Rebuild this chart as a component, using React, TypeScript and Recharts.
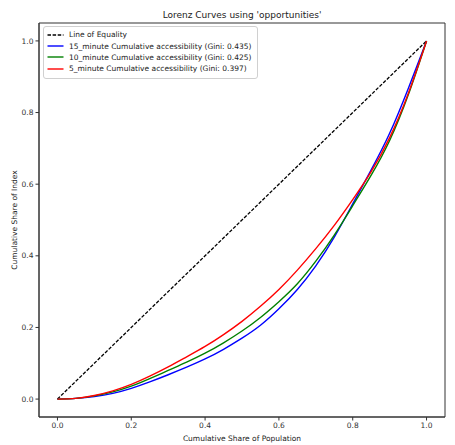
import React from 'react';
import { LineChart, Line, XAxis, YAxis, Label, Legend, ReferenceArea } from 'recharts';

// Share of population (x) at which the curves were read
const populationShare = [0, 0.05, 0.1, 0.15, 0.2, 0.25, 0.3, 0.35, 0.4, 0.45, 0.5, 0.55, 0.6, 0.65, 0.7, 0.75, 0.8, 0.85, 0.9, 0.95, 1.0];
// 15_minute cumulative accessibility (Gini 0.435)
const minute15 = [0, 0.002, 0.007, 0.016, 0.03, 0.048, 0.068, 0.089, 0.112, 0.139, 0.17, 0.206, 0.252, 0.306, 0.372, 0.452, 0.545, 0.64, 0.742, 0.866, 1.0];
// 10_minute cumulative accessibility (Gini 0.425)
const minute10 = [0, 0.002, 0.009, 0.02, 0.036, 0.057, 0.08, 0.103, 0.128, 0.157, 0.19, 0.228, 0.272, 0.322, 0.385, 0.458, 0.54, 0.625, 0.722, 0.848, 1.0];
// 5_minute cumulative accessibility (Gini 0.397)
const minute5 = [0, 0.002, 0.01, 0.023, 0.041, 0.064, 0.09, 0.118, 0.147, 0.18, 0.217, 0.259, 0.306, 0.36, 0.42, 0.485, 0.557, 0.635, 0.73, 0.852, 1.0];
const equalityX = [0, 1];
const equalityY = [0, 1];
const axisTicks = [0, 0.2, 0.4, 0.6, 0.8, 1.0];
const axisDomain = [-0.05, 1.05];

const seriesInfo = [
  { key: 'eq', name: 'Line of Equality', color: '#000000', dash: '3.5 1.6' },
  { key: 's15', name: '15_minute Cumulative accessibility (Gini: 0.435)', color: '#0000ff', dash: undefined },
  { key: 's10', name: '10_minute Cumulative accessibility (Gini: 0.425)', color: '#008000', dash: undefined },
  { key: 's5', name: '5_minute Cumulative accessibility (Gini: 0.397)', color: '#ff0000', dash: undefined },
];

const data = populationShare.map((x, i) => ({ x, s15: minute15[i], s10: minute10[i], s5: minute5[i] }));
const eqData = equalityX.map((x, i) => ({ x, eq: equalityY[i] }));

const FONT = '"DejaVu Sans", sans-serif';
const tickStyle = { fontSize: 7.5, fill: '#333', fontFamily: FONT };
const fmt = (v: number) => v.toFixed(1);

const renderLegend = () => (
  <div
    style={{
      border: '1px solid #d0d0d0',
      borderRadius: 3,
      background: 'rgba(255,255,255,0.8)',
      padding: '2px 6px 3px 3px',
      fontFamily: FONT,
      fontSize: 7.5,
      color: '#222',
      width: 'max-content',
    }}
  >
    {seriesInfo.map((s) => (
      <div key={s.key} style={{ display: 'flex', alignItems: 'center', height: 11.4 }}>
        <svg width={17} height={6} style={{ marginRight: 5 }}>
          <line x1={0.5} y1={3} x2={16.5} y2={3} stroke={s.color} strokeWidth={1.4} strokeDasharray={s.dash} />
        </svg>
        <span>{s.name}</span>
      </div>
    ))}
  </div>
);

export default function App() {
  return (
    <div style={{ position: 'relative', width: 447, height: 437, fontFamily: FONT, overflow: 'hidden' }}>
      <div
        style={{
          position: 'absolute',
          left: 0,
          width: 468,
          top: 1,
          textAlign: 'center',
          fontSize: 9,
          color: '#222',
          lineHeight: '12px',
        }}
      >
        Lorenz Curves using 'opportunities'
      </div>
      <div
        style={{
          position: 'absolute',
          left: 446,
          top: 212,
          transform: 'translate(-50%, -50%) rotate(-90deg)',
          transformOrigin: 'center',
          fontSize: 7.5,
          color: '#555',
          whiteSpace: 'nowrap',
          lineHeight: '9px',
        }}
      >
        Cumulative Share of Index
      </div>
      <LineChart width={447} height={437} margin={{ top: 15, right: 10, left: 0, bottom: 0 }}>
        <XAxis
          dataKey="x"
          type="number"
          domain={axisDomain}
          ticks={axisTicks}
          tickFormatter={fmt}
          allowDataOverflow
          height={28}
          tickSize={3.5}
          tickMargin={2}
          tick={tickStyle}
          stroke="#333"
          axisLine={{ stroke: '#333', strokeWidth: 1 }}
          tickLine={{ stroke: '#333' }}
        >
          <Label value="Cumulative Share of Population" position="insideBottom" offset={4} style={{ fontSize: 7.5, fill: '#222', fontFamily: FONT }} />
        </XAxis>
        <YAxis
          type="number"
          domain={axisDomain}
          ticks={axisTicks}
          tickFormatter={fmt}
          allowDataOverflow
          width={31}
          tickSize={3.5}
          tickMargin={2}
          tick={tickStyle}
          stroke="#333"
          axisLine={{ stroke: '#333', strokeWidth: 1 }}
          tickLine={{ stroke: '#333' }}
        >
          <Label value="Cumulative Share of Index" angle={-90} position="insideLeft" offset={6} style={{ fontSize: 7.5, fill: '#222', fontFamily: FONT, textAnchor: 'middle' }} />
        </YAxis>
        <ReferenceArea
          x1={axisDomain[0]}
          x2={axisDomain[1]}
          y1={axisDomain[0]}
          y2={axisDomain[1]}
          fill="none"
          fillOpacity={0}
          stroke="#333"
          strokeWidth={1}
          ifOverflow="visible"
        />
        <Legend
          content={renderLegend}
          layout="vertical"
          align="center"
          verticalAlign="middle"
          wrapperStyle={{ position: 'absolute', left: 35, top: 18, width: 'auto', height: 'auto' }}
        />
        <Line data={eqData} dataKey="eq" type="linear" stroke="#000" strokeWidth={1.3} strokeDasharray="3.5 1.6" dot={false} isAnimationActive={false} legendType="none" />
        <Line data={data} dataKey="s15" type="natural" stroke="#0000ff" strokeWidth={1.4} dot={false} isAnimationActive={false} />
        <Line data={data} dataKey="s10" type="natural" stroke="#008000" strokeWidth={1.4} dot={false} isAnimationActive={false} />
        <Line data={data} dataKey="s5" type="natural" stroke="#ff0000" strokeWidth={1.4} dot={false} isAnimationActive={false} />
      </LineChart>
    </div>
  );
}
